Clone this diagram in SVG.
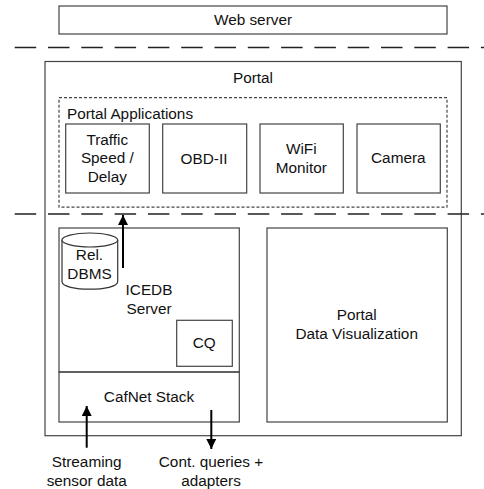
<svg xmlns="http://www.w3.org/2000/svg" width="484" height="489" viewBox="0 0 484 489">
<style>
text{font-family:"Liberation Sans",Arial,sans-serif;font-size:15.33px;fill:#111;text-anchor:middle}
.b{fill:none;stroke:#444;stroke-width:1.2}
.w{fill:#fff;stroke:#333;stroke-width:1.2}
.d{fill:none;stroke:#222;stroke-width:1.3;stroke-dasharray:21.5 11.8}
.a{fill:none;stroke:#000;stroke-width:2}
</style>
<defs><marker id="ah" markerUnits="userSpaceOnUse" markerWidth="10" markerHeight="10" refX="10" refY="5" orient="auto"><path d="M0 0L10 5L0 10z" fill="#000"/></marker></defs>
<g id="web-server"><rect class="b" x="59" y="6" width="388" height="28"/><text x="253" y="25.300">Web server</text></g>
<g id="portal"><rect class="b" x="45" y="61.500" width="416.300" height="374.200"/><text x="253" y="83.300">Portal</text></g>
<g id="portal-applications"><rect class="b" x="59" y="97.700" width="388" height="109.500" stroke-dasharray="3 2"/><text x="130" y="119">Portal Applications</text></g>
<g id="traffic"><rect class="b" x="65.700" y="124" width="83.600" height="69"/><text x="107.300" y="145">Traffic</text><text x="107.300" y="163">Speed /</text><text x="107.300" y="182">Delay</text></g>
<g id="obd"><rect class="b" x="162.700" y="124" width="84" height="69"/><text x="204" y="163.500">OBD-II</text></g>
<g id="wifi"><rect class="b" x="260" y="124" width="83.300" height="69"/><text x="301.300" y="154">WiFi</text><text x="301.300" y="173">Monitor</text></g>
<g id="camera"><rect class="b" x="357" y="124" width="83.300" height="69"/><text x="398.300" y="163.300">Camera</text></g>
<g id="icedb"><rect class="b" x="59" y="228" width="180.300" height="144"/><text x="149" y="295">ICEDB</text><text x="149" y="314">Server</text></g>
<g id="cafnet"><rect class="b" x="59" y="372" width="180.300" height="50"/><text x="149" y="401.700">CafNet Stack</text></g>
<g id="dbms"><path class="w" d="M62 240V281.500C62 291.800 117.700 291.800 117.700 281.500V240"/><ellipse class="w" cx="89.800" cy="240" rx="27.900" ry="7"/><text x="89.500" y="260">Rel.</text><text x="89.500" y="279">DBMS</text></g>
<g id="cq"><rect class="b" x="176.700" y="320.300" width="55.600" height="46"/><text x="204.300" y="347.800">CQ</text></g>
<g id="visualization"><rect class="b" x="267" y="228" width="180.300" height="194"/><text x="356.700" y="320">Portal</text><text x="356.700" y="339.300">Data Visualization</text></g>
<g id="connectors">
<path class="d" d="M14.700 47.500H484"/>
<path class="d" d="M14.700 214H484"/>
<path class="a" d="M123 268V215" marker-end="url(#ah)"/>
<path class="a" d="M86.700 447.700V406" marker-end="url(#ah)"/>
<path class="a" d="M211.300 410V449" marker-end="url(#ah)"/>
</g>
<text x="86.700" y="467.300">Streaming</text><text x="86.700" y="486">sensor data</text>
<text x="211" y="467.300">Cont. queries +</text><text x="211" y="486">adapters</text>
</svg>
